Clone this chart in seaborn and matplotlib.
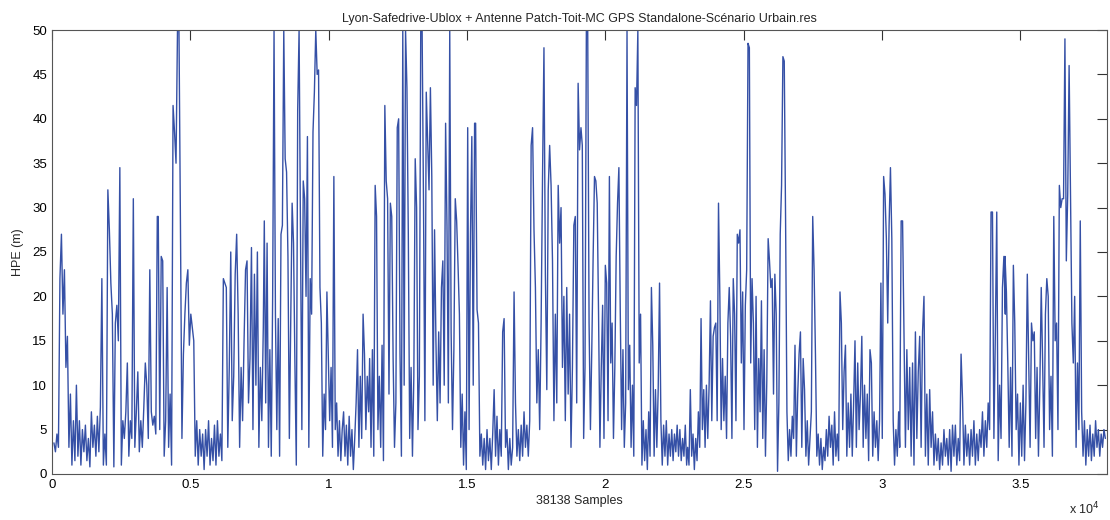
import numpy as np
import pandas as pd
import matplotlib
matplotlib.use("Agg")
import matplotlib.pyplot as plt
import seaborn as sns

# HPE values, one list per stretch of the x axis
seg_start = [72, 3843, 7676, 11484, 15315, 19171, 22979, 26810, 30645, 34451]
seg_end = [3808, 7640, 11448, 15278, 19123, 22943, 26762, 30606, 34462, 38078]

hpe_1 = [3.5, 2.5, 4.5, 3, 22, 27, 18, 23, 12, 15.5, 3, 9, 1, 6, 1.5, 10, 2, 6, 1, 5,
         2.5, 5.5, 1.5, 4, 0.8, 7, 3, 5.5, 2, 6.5, 2.5, 7.5, 22, 1, 4.5, 1, 32, 27.5, 21.5, 18,
         0.8, 17, 19, 15, 34.5, 1, 6, 4, 7, 12.5, 2, 6, 4, 31, 3, 7, 11.5, 2.5, 6, 3,
         7.5, 12.5, 10, 4, 23, 7, 5.5, 6.5, 4.5, 29]
hpe_2 = [29, 5, 24.5, 24, 2, 6, 21, 3, 9, 1, 41.5, 38.5, 35, 50, 50, 28, 4, 13.5, 18, 21.5,
         23, 14.5, 18, 16.5, 15, 2, 6, 1, 5, 2, 4.5, 0.5, 5, 2, 6, 1, 4, 1.5, 5.5, 1,
         6, 2, 4.5, 1.5, 22, 21.5, 21, 3, 12, 25, 6, 11, 22.5, 27, 18, 3, 12, 6, 15, 23,
         24, 8, 13, 25.5, 5, 22.5, 10, 25, 3, 12, 6, 16.5]
hpe_3 = [28.5, 8, 26, 3, 14, 2, 20, 50, 18, 5, 17.5, 2, 27, 28, 50, 35.5, 34, 24.5, 4, 17,
         30.5, 26, 12.5, 1, 41, 50, 28, 5, 33, 31, 20, 38, 3, 22, 18, 38.5, 43, 50, 45, 45.5,
         21, 17, 2, 9, 5, 20.5, 13, 6, 12, 3, 33.5, 5, 8, 2, 6, 1.5, 5, 7, 2, 5.5,
         1, 6.5, 2, 5, 0.5, 4, 8, 14, 3, 11, 4, 18, 13.5, 5, 11, 7]
hpe_4 = [13, 3, 14, 2, 32.5, 29, 5, 11, 3, 14.5, 1.5, 41.5, 33, 31, 9, 30.5, 29, 13, 3, 8,
         39, 40, 13.5, 2, 50, 10, 50, 43.5, 27, 4, 12, 2, 11, 35.5, 30, 5, 11, 50, 50, 30.5,
         6, 43, 37.5, 32, 43.5, 33.5, 10, 27.5, 15, 6, 16, 8, 21, 24, 10, 39.5, 28, 8, 50, 16,
         5, 14, 31, 28.5, 23.5, 18, 3, 9, 1, 7, 0.5, 39, 5, 27, 38, 10, 39.5]
hpe_5 = [39.5, 18.5, 17, 2, 4.5, 1, 4, 0.5, 5, 1.5, 4, 0.5, 4.5, 9.5, 2, 6.5, 1, 5, 2, 16,
         17.5, 3, 5, 0.5, 4, 1, 3, 20.5, 8, 2, 5, 1.5, 5.5, 2, 7, 3, 5.5, 2, 6, 37,
         39, 27.5, 21, 8, 14, 5, 17, 33.5, 48, 22.5, 9.5, 32, 37, 32.5, 24, 6, 18, 8, 32.5, 26,
         30, 12, 20, 6, 21, 9, 18, 3, 12, 28, 29, 8, 44, 36.5, 39]
hpe_6 = [37, 4, 12, 50, 50, 17, 5, 14, 24.5, 33.5, 33, 30.5, 18, 3, 12, 19, 4, 23.5, 21.5, 6,
         33.5, 12.5, 17, 4, 12, 24.5, 30.5, 34.5, 18.5, 5, 14, 3, 8, 50, 9.5, 14.5, 3, 10, 2, 43.5,
         41.5, 50, 12.5, 18, 1, 6, 1.5, 5, 0.5, 7, 2, 21, 14.5, 2, 9.5, 3, 9.5, 21.5, 6, 1,
         5.5, 2, 6, 1, 4.5, 2, 5, 1.5, 4.5, 2.5, 5.5, 2, 5, 1.5, 4, 2, 5.5, 1]
hpe_7 = [3, 1, 9.5, 2, 4.5, 0.5, 4, 1.5, 7, 3, 17.5, 5, 9.5, 3, 10, 4, 10, 19.5, 6, 15.5,
         16.5, 17, 6, 30.5, 20, 5, 13, 6, 11, 4, 17, 21, 15.5, 4, 22, 18, 6, 27, 26, 27.5,
         12.5, 20.5, 5, 19, 23, 48.5, 48, 12.5, 22, 17, 5, 20, 3, 13, 7, 19.5, 4, 14, 2, 10.5,
         26.5, 24, 21, 22, 9, 22.5, 18, 0.3, 8, 27, 32.5, 47, 46.5, 28.5, 7, 1.5, 5, 2, 6.5]
hpe_8 = [4, 14.5, 2, 9, 13.5, 16, 3, 13, 9.5, 2, 6, 1, 4, 7, 29, 23, 13.5, 2, 4.5, 1,
         4, 0.5, 3, 1.5, 5, 2, 6.5, 3, 5.5, 1, 7, 2, 4.5, 1.5, 20.5, 17, 5, 11.5, 14.5, 2,
         8, 3, 9, 2, 8, 15, 3, 12.5, 5, 9, 15.5, 3, 10, 4, 9, 1.5, 14, 12.5, 2, 7,
         3, 6, 1.5, 6, 21.5, 4, 33.5, 31.5, 26.5, 17, 28, 34.5, 26.5, 6, 1, 5, 2, 7]
hpe_9 = [3, 28.5, 28.5, 16, 3, 14, 5, 12, 2, 12.5, 1, 16, 4, 11.5, 15.5, 3, 16, 20, 2, 9,
         1, 9.5, 3, 7, 1, 4.5, 1.5, 4, 0.5, 3.5, 1, 5, 2, 4, 1, 5, 0.3, 5.5, 2, 5.5,
         1, 4, 1.5, 13.5, 8.5, 1, 5.5, 2, 4.5, 1, 5, 2, 6, 1, 4.5, 1.5, 5, 3, 7, 2,
         6, 3, 8, 5, 29.5, 29.5, 4, 15.5, 29.5, 1.5, 10, 4, 21, 24.5, 18]
hpe_10 = [24.5, 20.5, 12.5, 3, 12, 2, 23.5, 17, 5, 9, 1, 8, 2, 10, 1.5, 8, 22.5, 12.5, 3, 17,
          15, 16, 4, 12, 2, 10, 21, 12.5, 3, 18, 22, 20, 5, 11, 2, 29, 15, 17, 5, 32.5,
          30, 31, 31, 49, 24, 31.5, 46, 31, 17, 12.5, 20, 3, 12.5, 5, 28.5, 7, 2, 6, 1, 5,
          2, 5.5, 1.5, 4.5, 2, 6, 3, 5, 2, 4.5, 3, 5, 4]

segments = [hpe_1, hpe_2, hpe_3, hpe_4, hpe_5, hpe_6, hpe_7, hpe_8, hpe_9, hpe_10]

n_samples = 38138
x_ticks = [0, 5000, 10000, 15000, 20000, 25000, 30000, 35000]
x_ticklabels = ["0", "0.5", "1", "1.5", "2", "2.5", "3", "3.5"]
y_ticks = list(range(0, 55, 5))

frames = []
for a, b, vals in zip(seg_start, seg_end, segments):
    frames.append(pd.DataFrame({"sample": np.linspace(a, b, len(vals)), "hpe": vals}))
df = pd.concat(frames, ignore_index=True)

sns.set_style("white")
plt.rcParams['font.family'] = ['Liberation Sans', 'DejaVu Sans']

fig = plt.figure(figsize=(11.1, 5.2), dpi=100)
ax = fig.add_axes([0.0468, 0.0885, 0.9505, 0.8538])

sns.lineplot(data=df, x="sample", y="hpe", ax=ax, color="#3550a6",
             linewidth=1.0, sort=False, estimator=None)

ax.set_xlim(0, n_samples)
ax.set_ylim(0, 50)
ax.set_xticks(x_ticks)
ax.set_xticklabels(x_ticklabels)
ax.set_yticks(y_ticks)
ax.tick_params(direction="in", top=True, right=True, length=7, width=0.8,
               colors="#333333", labelcolor="black", labelsize=9.5)
for s in ax.spines.values():
    s.set_color("#555555")
    s.set_linewidth(0.8)

ax.set_title("Lyon-Safedrive-Ublox + Antenne Patch-Toit-MC GPS Standalone-Scénario Urbain.res",
             fontsize=9, pad=6)
ax.set_xlabel("38138 Samples", fontsize=9, labelpad=3)
ax.set_ylabel("HPE (m)", fontsize=9, labelpad=6)
fig.text(1100 / 1110, 6 / 520, r"x 10$^{4}$", ha="right", va="baseline", fontsize=9)

fig.savefig("out.png", dpi=100)
